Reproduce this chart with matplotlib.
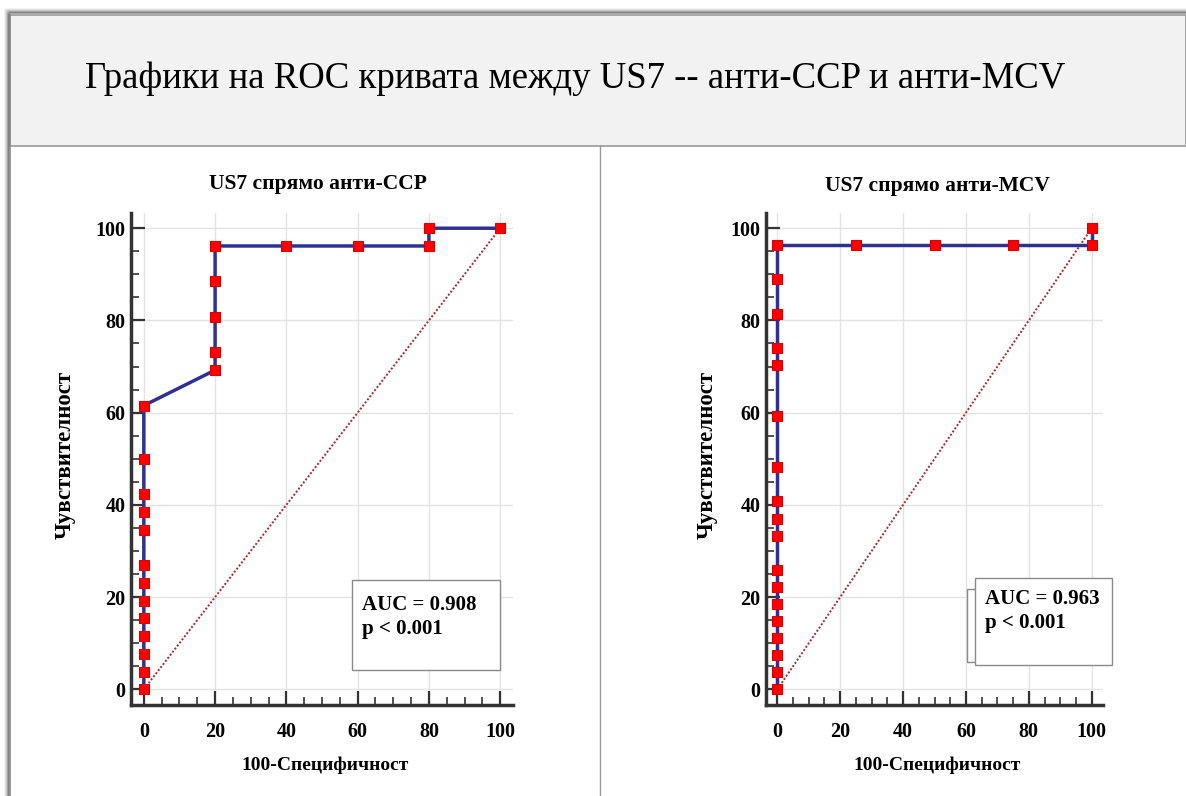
import matplotlib.pyplot as plt
from matplotlib.patches import Rectangle
from matplotlib.lines import Line2D
from matplotlib.ticker import MultipleLocator

plt.rcParams['font.family'] = ['Liberation Serif', 'DejaVu Serif']

W, H = 1186, 796

# данни, отчетени от графиката
ccp_fpr = [0, 0, 0, 0, 0, 0, 0, 0, 0, 0, 0, 0, 0,
           20, 20, 20, 20, 20, 40, 60, 80, 80, 100]
ccp_tpr = [0, 3.85, 7.69, 11.54, 15.38, 19.23, 23.08, 26.92, 34.62, 38.46,
           42.31, 50.0, 61.54, 69.23, 73.08, 80.77, 88.46, 96.15, 96.15,
           96.15, 96.15, 100, 100]

mcv_fpr = [0, 0, 0, 0, 0, 0, 0, 0, 0, 0, 0, 0, 0, 0, 0, 0, 0, 0,
           25, 50, 75, 100, 100]
mcv_tpr = [0, 3.70, 7.41, 11.11, 14.81, 18.52, 22.22, 25.93, 33.33, 37.04,
           40.74, 48.15, 59.26, 70.37, 74.07, 81.48, 88.89, 96.30, 96.30,
           96.30, 96.30, 96.30, 100]

titles = ['US7 спрямо анти-CCP', 'US7 спрямо анти-MCV']
auc_texts = ['AUC = 0.908\np < 0.001', 'AUC = 0.963\np < 0.001']
main_title = 'Графики на ROC кривата между US7 -- анти-CCP и анти-MCV'
xlabel = '100-Специфичност'
ylabel = 'Чувствителност'


def fx(px):
    return px / W


def fy(py):
    return 1 - py / H


fig = plt.figure(figsize=(W / 100, H / 100), dpi=100)

# рамка и заглавна лента
for i, a in enumerate([0.05, 0.1, 0.18, 0.28, 0.4]):
    fig.add_artist(Line2D([fx(6 + i), 1], [fy(9 + i), fy(9 + i)], color='black',
                          alpha=a, lw=1.2))
    fig.add_artist(Line2D([fx(5 + i), fx(5 + i)], [fy(10 + i), 0], color='black',
                          alpha=a, lw=1.2))
fig.add_artist(Rectangle((fx(10), fy(146)), 1 - fx(10), fy(15) - fy(146),
                         transform=fig.transFigure, facecolor='#f2f2f2',
                         edgecolor='#9a9a9a', lw=1.2))
fig.add_artist(Line2D([fx(10), fx(10)], [0, fy(15)], color='#8a8a8a', lw=1.2))
fig.add_artist(Line2D([fx(600), fx(600)], [0, fy(146)], color='#9a9a9a', lw=1))
fig.text(fx(575), fy(79), main_title, ha='center', va='center', fontsize=26.5)

panels = [
    dict(fpr=ccp_fpr, tpr=ccp_tpr, box=(131, 513), title_xy=(318, 184),
         xl=(325, 765), yl=(65, 455),
         rects=[(352, 580, 500, 670)], txt=(362, 617)),
    dict(fpr=mcv_fpr, tpr=mcv_tpr, box=(766, 1103), title_xy=(937, 186),
         xl=(937, 765), yl=(707, 455),
         rects=[(967, 589, 1104, 662), (975, 578, 1112, 665)], txt=(985, 611)),
]

for i, p in enumerate(panels):
    x0, x1 = p['box']
    ax = fig.add_axes([fx(x0), fy(705), fx(x1) - fx(x0), fy(213) - fy(705)])
    ax.set_xlim(-3.6, 103.6)
    ax.set_ylim(-3.4, 103.3)
    ax.xaxis.set_major_locator(MultipleLocator(20))
    ax.yaxis.set_major_locator(MultipleLocator(20))
    ax.xaxis.set_minor_locator(MultipleLocator(5))
    ax.yaxis.set_minor_locator(MultipleLocator(5))
    ax.grid(True, which='major', color='#e3e3e3', lw=1)
    ax.set_axisbelow(True)
    for s in ['top', 'right']:
        ax.spines[s].set_visible(False)
    for s in ['left', 'bottom']:
        ax.spines[s].set_linewidth(2.5)
        ax.spines[s].set_color('#333333')
    ax.tick_params(which='major', direction='in', length=10, width=1.6,
                   color='#333333', labelsize=14.5)
    ax.tick_params(which='minor', direction='in', length=6, width=1.2,
                   color='#333333')
    ax.tick_params(axis='x', pad=12)
    ax.tick_params(axis='y', pad=4)
    for lab in ax.get_xticklabels() + ax.get_yticklabels():
        lab.set_fontweight('bold')

    ax.plot([0, 100], [0, 100], ls=(0, (1, 1)), color='#a52a2a', lw=1.4)
    ax.plot(p['fpr'], p['tpr'], color='#2e3192', lw=2.5, marker='s', ms=7.5,
            mfc='#ff0000', mec='#d40000', mew=0.8, clip_on=False, zorder=3)

    fig.text(fx(p['title_xy'][0]), fy(p['title_xy'][1]), titles[i],
             ha='center', va='center', fontsize=15.5, fontweight='bold')
    fig.text(fx(p['xl'][0]), fy(p['xl'][1]), xlabel, ha='center', va='center',
             fontsize=14, fontweight='bold')
    fig.text(fx(p['yl'][0]), fy(p['yl'][1]), ylabel, ha='center', va='center',
             rotation=90, fontsize=16.5, fontweight='bold')

    for (l, t, r, b) in p['rects']:
        fig.add_artist(Rectangle((fx(l), fy(b)), fx(r) - fx(l), fy(t) - fy(b),
                                 transform=fig.transFigure, facecolor='white',
                                 edgecolor='#8a8a8a', lw=1))
    fig.text(fx(p['txt'][0]), fy(p['txt'][1]), auc_texts[i], ha='left',
             va='center', fontsize=15, fontweight='bold', linespacing=1.3)

fig.savefig('out.png', dpi=100)
